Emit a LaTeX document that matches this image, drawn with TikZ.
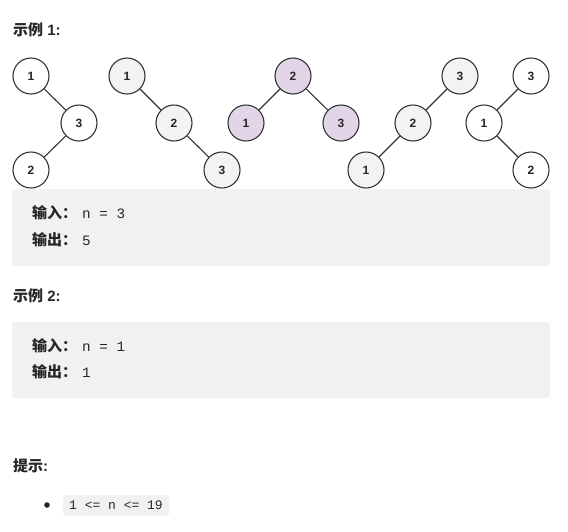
\documentclass[tikz,border=0pt]{standalone}
\usepackage{fontspec}
\setmainfont{Liberation Sans}
\setmonofont{Liberation Mono}
\newfontfamily\cjk{Noto Sans CJK SC}
\definecolor{boxgray}{HTML}{F0F1F3}
\definecolor{ngray}{HTML}{F3F3F3}
\definecolor{npurple}{HTML}{E1D5E7}
\definecolor{edge}{HTML}{333333}
\definecolor{txt}{HTML}{262626}
\begin{document}
\begin{tikzpicture}[x=1pt,y=-1pt,
  tn/.style={circle,draw=edge,line width=1.1pt,minimum size=36pt,inner sep=0pt,font=\fontsize{12}{12}\selectfont\bfseries,text=txt},
  wn/.style={tn,fill=white},
  gn/.style={tn,fill=ngray},
  pn/.style={tn,fill=npurple},
  tedge/.style={draw=edge,line width=1.1pt},
  head/.style={anchor=west,inner sep=0pt,font=\fontsize{15}{15}\selectfont\bfseries,text=txt},
  line/.style={anchor=west,inner sep=0pt,font=\fontsize{14.3}{14.3}\selectfont,text=txt},
  codebox/.style={fill=boxgray,rounded corners=3pt}]
\useasboundingbox (0,0) rectangle (568,531);
% headings
\node[head] (h1) at (13,30) {{\cjk 示例} 1:};
% tree 1
\node[wn] (a1) at (31,76) {1};
\node[wn] (a3) at (79,123) {3};
\node[wn] (a2) at (31,170) {2};
\draw[tedge] (a1) -- (a3); \draw[tedge] (a3) -- (a2);
% tree 2
\node[gn] (b1) at (127,76) {1};
\node[gn] (b2) at (174,123) {2};
\node[gn] (b3) at (222,170) {3};
\draw[tedge] (b1) -- (b2); \draw[tedge] (b2) -- (b3);
% tree 3
\node[pn] (c2) at (293,76) {2};
\node[pn] (c1) at (246,123) {1};
\node[pn] (c3) at (341,123) {3};
\draw[tedge] (c2) -- (c1); \draw[tedge] (c2) -- (c3);
% tree 4
\node[gn] (d3) at (460,76) {3};
\node[gn] (d2) at (413,123) {2};
\node[gn] (d1) at (366,170) {1};
\draw[tedge] (d3) -- (d2); \draw[tedge] (d2) -- (d1);
% tree 5
\node[wn] (e3) at (531,76) {3};
\node[wn] (e1) at (484,123) {1};
\node[wn] (e2) at (531,170) {2};
\draw[tedge] (e3) -- (e1); \draw[tedge] (e1) -- (e2);
% example 1 box
\path[codebox] (12,189) rectangle (550,266);
\node[line] (i1) at (32,213) {{\fontsize{15}{15}\selectfont\cjk\bfseries 输入：}\hspace{5pt}\ttfamily n = 3};
\node[line] (o1) at (32,240) {{\fontsize{15}{15}\selectfont\cjk\bfseries 输出：}\hspace{5pt}\ttfamily 5};
% example 2
\node[head] (h2) at (13,296) {{\cjk 示例} 2:};
\path[codebox] (12,322) rectangle (550,398);
\node[line] (i2) at (32,346) {{\fontsize{15}{15}\selectfont\cjk\bfseries 输入：}\hspace{5pt}\ttfamily n = 1};
\node[line] (o2) at (32,372) {{\fontsize{15}{15}\selectfont\cjk\bfseries 输出：}\hspace{5pt}\ttfamily 1};
% hint
\node[head] (h3) at (13,466) {{\cjk 提示}:};
\fill[txt] (47,505) circle (2.8pt);
\path[codebox] (63,495) rectangle (169,516);
\node[anchor=center,inner sep=0pt,font=\fontsize{13}{13}\selectfont\ttfamily,text=txt] (c) at (116,505.5) {1 <= n <= 19};
\end{tikzpicture}
\end{document}
